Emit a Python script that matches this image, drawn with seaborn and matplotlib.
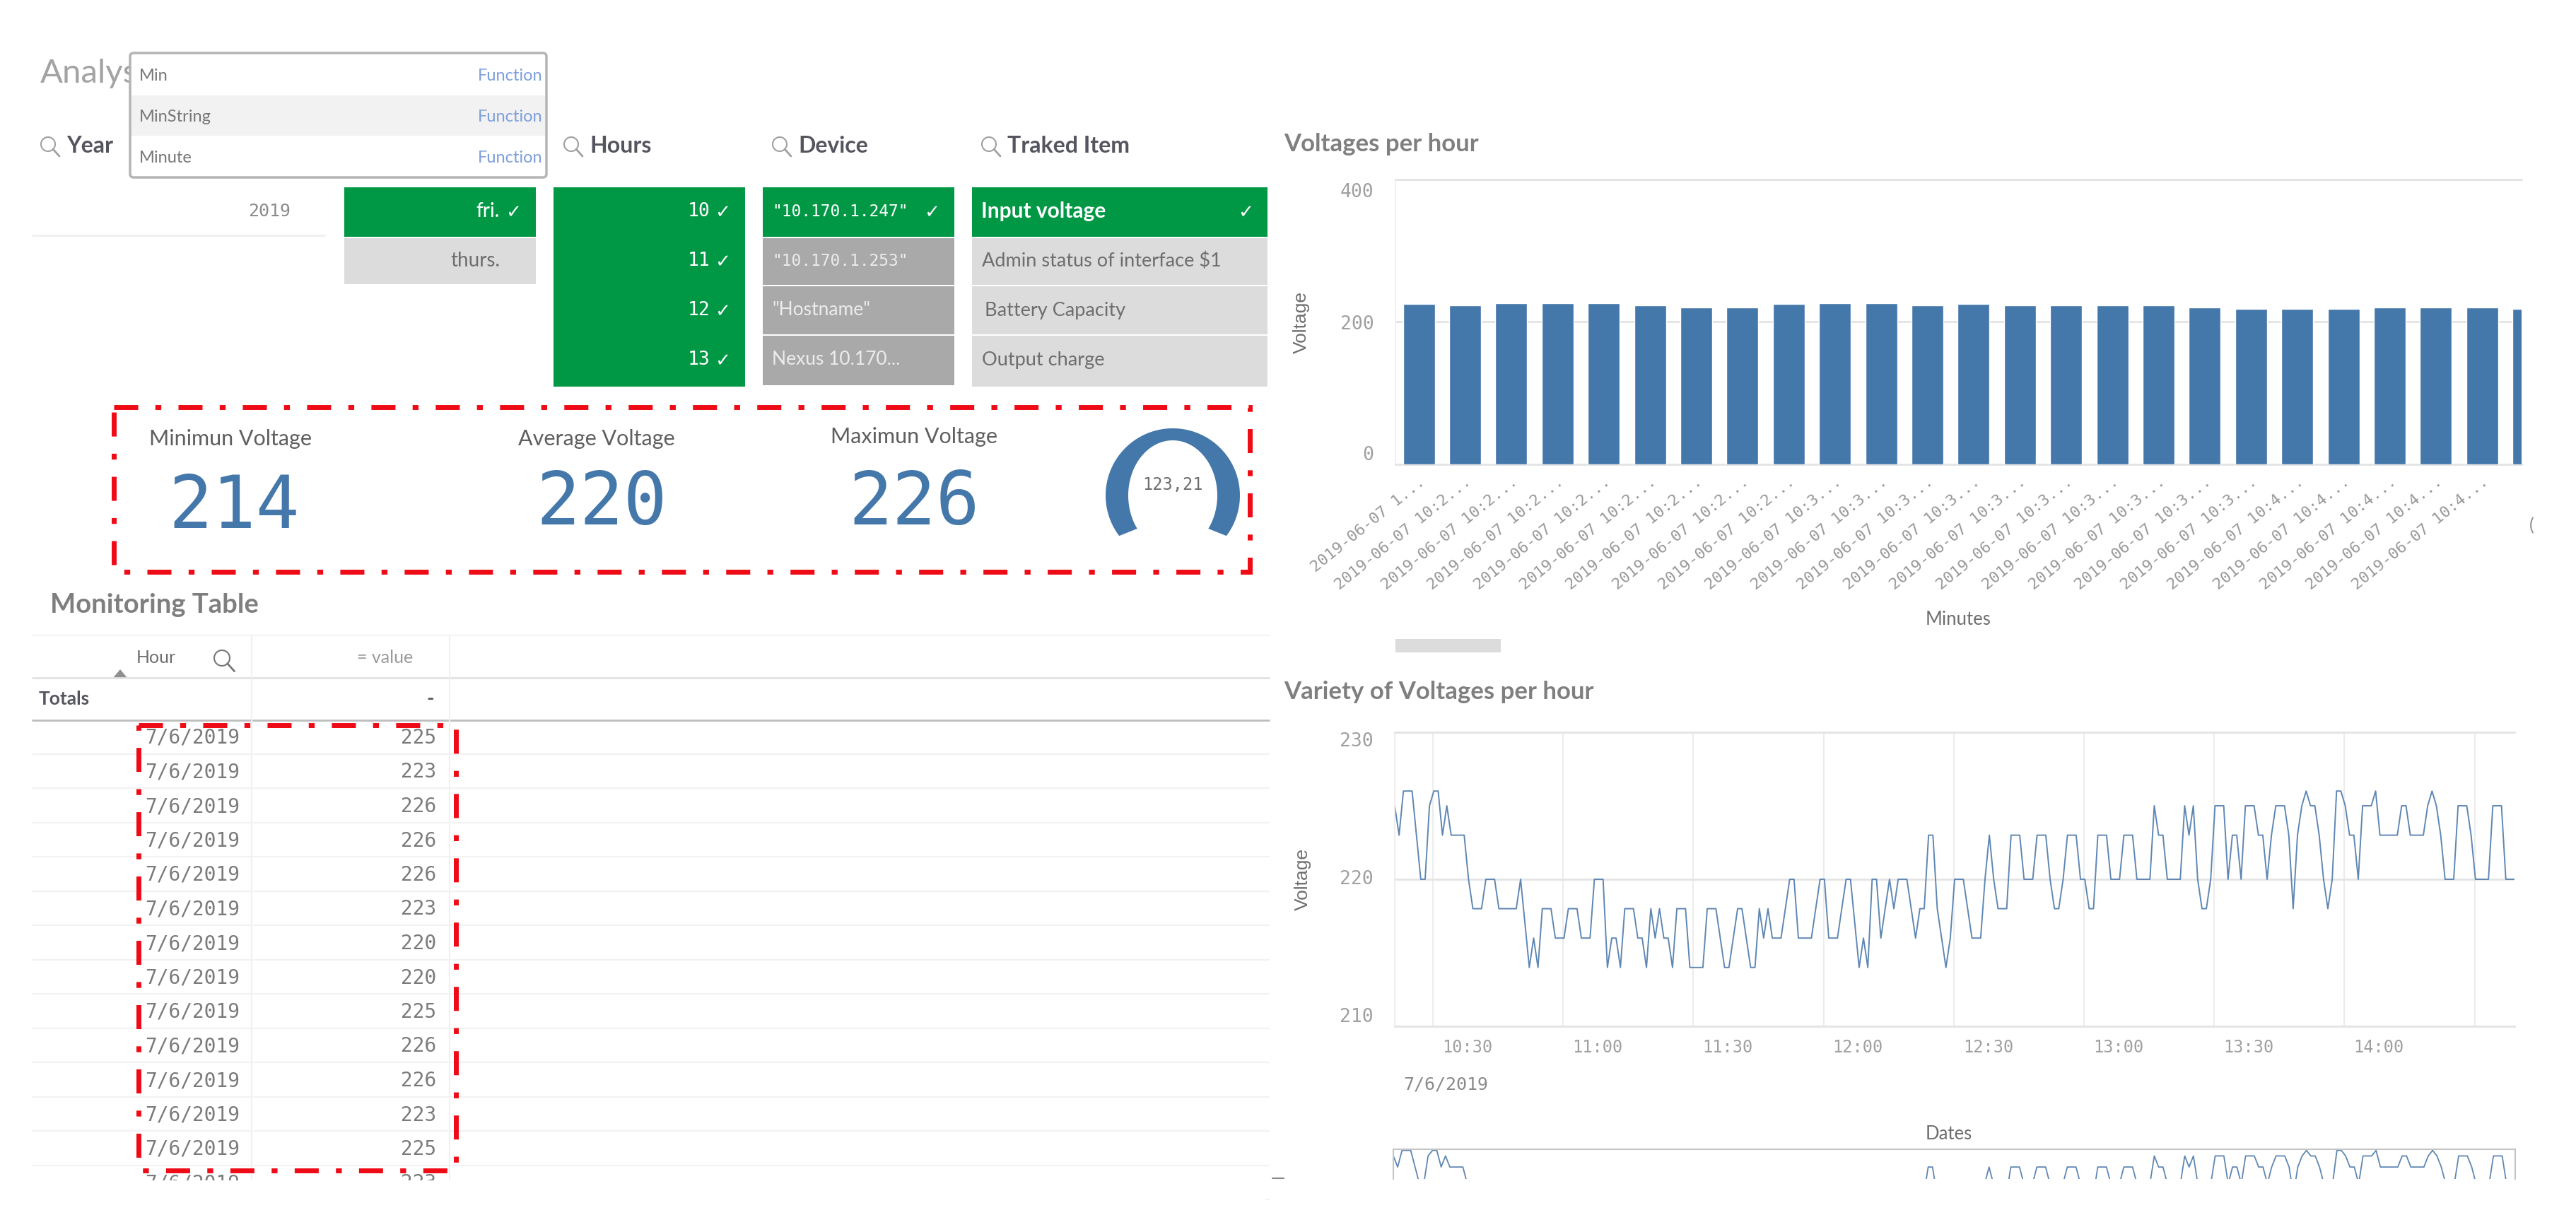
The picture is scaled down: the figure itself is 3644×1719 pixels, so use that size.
import numpy as np
import pandas as pd
import matplotlib
matplotlib.use('Agg')
import matplotlib.pyplot as plt
from matplotlib.patches import Rectangle, Circle, Polygon, FancyBboxPatch
import seaborn as sns

W, H = 3644, 1719

# slicers
hours = ['10', '11', '12', '13']
days = ['fri.', 'thurs.']
devices = ['"10.170.1.247"', '"10.170.1.253"', '"Hostname"', 'Nexus 10.170...']
items = ['Input voltage', 'Admin status of interface $1', 'Battery Capacity', 'Output charge']
suggestions = ['Min', 'MinString', 'Minute']

# kpis
kpi_names = ['Minimun Voltage', 'Average Voltage', 'Maximun Voltage']
kpi_values = ['214', '220', '226']
gauge_value = '123,21'

# table
table_values = [225, 223, 226, 226, 226, 223, 220, 220, 225, 226, 226, 223, 225, 223]

# bars
bar_values = [225, 223, 226, 226, 226, 223, 220, 220, 225, 226, 226, 223, 225,
              223, 223, 223, 223, 220, 218, 218, 218, 220, 220, 220, 218]
bar_labels = ['2019-06-07 1...'] + ['2019-06-07 10:2...'] * 8 + ['2019-06-07 10:3...'] * 10 + ['2019-06-07 10:4...'] * 5

# line, one reading per minute
line_values = [
    225, 223, 226, 226, 226, 223, 220, 220, 225, 226, 226, 223, 225, 223, 223, 223, 223, 220,
    218, 218, 218, 220, 220, 220, 218, 218, 218, 218, 218, 220, 217, 214, 216, 214, 218, 218,
    218, 216, 216, 216, 218, 218, 218, 216, 216, 216, 220, 220, 220, 214, 216, 216, 214, 218,
    218, 218, 216, 216, 214, 218, 216, 218, 216, 216, 214,
    218, 218, 218, 214, 214, 214, 214, 218, 218, 218, 216, 214, 214, 216, 218, 218, 216, 214,
    214, 218, 216, 218, 216, 216, 216, 218, 220, 220, 216, 216, 216, 216, 218, 220, 220, 216,
    216, 216, 218, 220, 220, 217, 214, 216, 214, 220, 220, 216, 218, 220, 218, 220, 220, 220,
    218, 216, 218, 218, 223, 223, 218, 216, 214, 216, 220, 220,
    220, 218, 216, 216, 216, 220, 223, 220, 218, 218, 218, 223, 223, 223, 220, 220, 220, 223,
    223, 223, 220, 218, 218, 220, 223, 223, 223, 220, 220, 218, 218, 223, 223, 223, 220, 220,
    220, 223, 223, 223, 220, 220, 220, 220, 225, 223, 223, 220, 220, 220, 220, 225, 223, 225,
    220, 218, 218, 220, 225, 225, 225, 220, 223, 223, 220,
    225, 225, 225, 223, 223, 220, 223, 225, 225, 225, 223, 218, 223, 225, 226, 225, 225, 223,
    220, 218, 220, 226, 226, 225, 223, 223, 220, 225, 225, 225, 226, 223, 223, 223, 223, 223,
    225, 225, 223, 223, 223, 223, 225, 226, 225, 223, 220, 220, 220, 225, 225, 225, 223, 220,
    220, 220, 220, 225, 225, 225, 220, 220, 220]
line_ticks = ['10:30', '11:00', '11:30', '12:00', '12:30', '13:00', '13:30', '14:00', '14:30']

BLUE = '#4477aa'
LINE = '#5f87b3'
GREEN = '#009845'
LIGHT = '#dcdcdc'
DARK = '#a9a9a9'
GRID = '#e4e4e4'
TXT = '#6e6e6e'
HEAD = '#55555f'
AXTXT = '#a0a0a0'
MONO = 'DejaVu Sans Mono'
SANS = 'Lato'

sns.set_theme(style='white')
plt.rcParams['font.family'] = SANS

fig = plt.figure(figsize=(W / 100, H / 100), dpi=100)


def px_axes(left, top, right, bottom):
    return fig.add_axes([left / W, 1 - bottom / H, (right - left) / W, (bottom - top) / H])


bg = px_axes(0, 0, W, H)
bg.set_xlim(0, W)
bg.set_ylim(H, 0)
bg.axis('off')


def txt(x, y, s, size=19, color=TXT, ha='left', family=SANS, weight='normal', **kw):
    bg.text(x, y, s, fontsize=size, color=color, ha=ha, va='center', family=family, weight=weight, **kw)


def lens(x, y, r=10, color='#a0a0a0'):
    bg.add_patch(Circle((x, y), r, fill=False, ec=color, lw=1.5))
    bg.plot([x + r * 0.7, x + r * 1.6], [y + r * 0.7, y + r * 1.7], color=color, lw=2)


def box(x0, y0, x1, y1, color, zorder=1):
    bg.add_patch(Rectangle((x0, y0), x1 - x0, y1 - y0, fc=color, ec='none', zorder=zorder))


def redbox(x0, y0, x1, y1):
    bg.add_patch(Rectangle((x0, y0), x1 - x0, y1 - y0, fill=False, ec='#ee0b16', lw=5,
                           ls=(0, (4.9, 3.5, 1.2, 3.5)), capstyle='butt', zorder=7))


# header
txt(57, 104, 'Analys', size=34, color='#a3a3a3')
for x, name in [(69, 'Year'), (809, 'Hours'), (1104, 'Device'), (1400, 'Traked Item')]:
    lens(x - 1, 204, 10)
    txt(x + 25, 207, name, size=23, color=HEAD, weight='bold')

# function dropdown
bg.add_patch(FancyBboxPatch((184, 75), 589, 176, boxstyle='round,pad=0,rounding_size=5', fc='white',
                            ec='#b4b4b4', lw=2.5, zorder=3))
box(186, 135, 771, 192, '#f2f2f2', zorder=3)
for y, name in zip([108, 165, 224], suggestions):
    bg.text(197, y, name, fontsize=17, color='#777777', va='center', zorder=4)
    bg.text(767, y, 'Function', fontsize=17, color='#7d9fdc', va='center', ha='right', zorder=4)

# year
txt(411, 299, '2019', size=18, color='#8a8a8a', ha='right', family=MONO)
bg.plot([46, 459], [333, 333], color='#efefef', lw=2)

# day column
box(487, 265, 758, 335, GREEN)
box(487, 337, 758, 402, LIGHT)
txt(707, 299, days[0], size=20, color='white', ha='right')
txt(707, 369, days[1], size=20, color=TXT, ha='right')
txt(726, 301, '\u2713', size=19, color='white', ha='center', family='DejaVu Sans', weight='bold')

# hours column
row_y = [299, 369, 439, 509]
box(783, 265, 1054, 547, GREEN)
for y, h in zip(row_y, hours):
    txt(1005, y, h, size=19, color='white', ha='right', family=MONO)
    txt(1022, y + 2, '\u2713', size=19, color='white', ha='center', family='DejaVu Sans', weight='bold')

# device column
box(1079, 265, 1350, 335, GREEN)
box(1079, 337, 1350, 403, DARK)
box(1079, 405, 1350, 473, DARK)
box(1079, 475, 1350, 545, DARK)
txt(1092, 299, devices[0], size=16.5, color='white', family=MONO)
txt(1092, 369, devices[1], size=16.5, color='#ececec', family=MONO)
txt(1092, 439, devices[2], size=19, color='#ececec')
txt(1092, 509, devices[3], size=19, color='#ececec')
txt(1318, 301, '\u2713', size=19, color='white', ha='center', family='DejaVu Sans', weight='bold')

# tracked item column
box(1375, 265, 1793, 335, GREEN)
box(1375, 337, 1793, 403, LIGHT)
box(1375, 405, 1793, 473, LIGHT)
box(1375, 475, 1793, 547, LIGHT)
txt(1388, 299, items[0], size=21.5, color='white', weight='bold')
txt(1389, 369, items[1], size=19.5)
txt(1393, 439, items[2], size=19.5)
txt(1389, 509, items[3], size=19.5)
txt(1762, 301, '\u2713', size=19, color='white', ha='center', family='DejaVu Sans', weight='bold')

# kpi strip
redbox(161, 576, 1768, 809)
for x, y, name in zip([211, 733, 1175], [621, 621, 618], kpi_names):
    txt(x, y, name, size=22, color='#5f5f5f')
for x, y, val in zip([238, 758, 1200], [718, 713, 713], kpi_values):
    txt(x, y, val, size=74, color=BLUE, family=MONO)

# gauge
ang = np.radians(np.linspace(-217, 37, 80))
outer = np.c_[1659 + 95 * np.cos(ang), 701 + 95 * np.sin(ang)]
inner = np.c_[1659 + 63 * np.cos(ang[::-1]), 701 + 78 * np.sin(ang[::-1])]
bg.add_patch(Polygon(np.r_[outer, inner], fc=BLUE, ec='none'))
txt(1659, 686, gauge_value, size=17, ha='center', family=MONO)

# table
txt(71, 856, 'Monitoring Table', size=27.5, color='#7f7f7f', weight='bold')
bg.plot([46, 1795], [899, 899], color='#f3f3f3', lw=1.5)
bg.plot([46, 1795], [959, 959], color='#e2e2e2', lw=2)
bg.plot([46, 1795], [1019, 1019], color='#bdbdbd', lw=2)
for x in [356, 636]:
    bg.plot([x, x], [899, 1668], color='#f0f0f0', lw=1.5)
txt(193, 930, 'Hour', size=18)
lens(314, 931, 11, color='#777777')
txt(584, 930, '= value', size=18, color='#9a9a9a', ha='right')
bg.add_patch(Polygon([[160, 959], [180, 959], [170, 947]], fc='#8f8f8f', ec='none'))
txt(55, 989, 'Totals', size=19, color=HEAD, weight='bold')
txt(614, 989, '-', size=20, color=HEAD, ha='right', weight='bold')
for i, val in enumerate(table_values):
    y = 1044 + 48.5 * i
    txt(205, y, '7/6/2019', size=20, family=MONO, color='#7a7a7a')
    txt(617, y, str(val), size=20, family=MONO, ha='right', color='#7a7a7a')
    bg.plot([46, 1795], [y + 23, y + 23], color='#f2f2f2', lw=1.5)
box(0, 1670, 1790, H, 'white', zorder=6)
redbox(196, 1026, 645, 1656)
bg.plot([1800, 1816], [1667, 1667], color='#888888', lw=1.5)

# bar chart
txt(1816, 204, 'Voltages per hour', size=25, color='#7f7f7f', weight='bold')
ax1 = px_axes(1974, 254, 3567, 657)
ax1.patch.set_alpha(0)
sns.barplot(x=list(range(len(bar_values))), y=bar_values, color=BLUE, saturation=1, width=0.688,
            ax=ax1, zorder=3)
ax1.set_xlim(-0.505, 23.85)
ax1.set_ylim(0, 400)
ax1.set_yticks([0, 200, 400])
ax1.set_yticklabels(['0', '200', ''], fontsize=19, family=MONO, color=AXTXT)
ax1.get_yticklabels()[0].set_va('bottom')
ax1.annotate('400', (0, 400), xycoords=ax1.get_yaxis_transform(), xytext=(-31, -18), textcoords='offset pixels',
             fontsize=19, family=MONO, color=AXTXT, ha='right', va='center')
ax1.set_xticks(range(len(bar_labels)))
ax1.set_xticklabels(bar_labels, fontsize=16, family=MONO, color='#989898', rotation=39, ha='right',
                    rotation_mode='anchor')
ax1.tick_params(axis='y', length=14, width=2, color=GRID, pad=8)
ax1.tick_params(axis='x', length=0, pad=10)
ax1.grid(axis='y', color=GRID, lw=2)
ax1.set_axisbelow(True)
for side in ['top', 'bottom']:
    ax1.spines[side].set_color(GRID)
    ax1.spines[side].set_linewidth(2)
ax1.spines['left'].set_color('#f0f0f0')
ax1.spines['right'].set_visible(False)
ax1.set_xlabel('')
ax1.set_ylabel('')
txt(1841, 456, 'Voltage', size=19, rotation=90, ha='center', family='Liberation Sans')
txt(2770, 877, 'Minutes', size=18.5, ha='center')
box(1974, 904, 2123, 923, LIGHT)
txt(3578, 744, '(', size=18, color='#909090')

# line chart
txt(1816, 979, 'Variety of Voltages per hour', size=25, color='#7f7f7f', weight='bold')
times = pd.date_range('2019-06-07 10:21:12', periods=len(line_values), freq='min')
ax2 = px_axes(1973, 1036, 3557, 1452)
ax2.patch.set_alpha(0)
sns.lineplot(x=times, y=line_values, color=LINE, lw=1.4, ax=ax2, errorbar=None)
ax2.set_xlim(times[0], times[-1])
ax2.set_ylim(210, 230)
ax2.set_yticks([210, 220, 230])
ax2.set_yticklabels(['210', '220', '230'], fontsize=19, family=MONO, color=AXTXT)
for lab, va in zip(ax2.get_yticklabels(), ['bottom', 'center', 'top']):
    lab.set_va(va)
ax2.set_xticks(pd.date_range('2019-06-07 10:30', periods=len(line_ticks), freq='30min'))
ax2.set_xticklabels([])
ax2.set_xlabel('')
ax2.tick_params(axis='x', length=40, width=1.5, color='#ececec')
ax2.tick_params(axis='y', length=14, width=2, color=GRID, pad=8)
ax2.grid(axis='x', color='#ececec', lw=1.5)
ax2.grid(axis='y', color=GRID, lw=2)
ax2.set_axisbelow(True)
for x, lab in zip(ax2.get_xticks(), line_ticks):
    if lab != '14:30':
        ax2.annotate(lab, (x, 0), xycoords=ax2.get_xaxis_transform(), xytext=(13, -30),
                     textcoords='offset pixels', fontsize=17, family=MONO, color=AXTXT, va='center')
for side in ['top', 'bottom']:
    ax2.spines[side].set_color(GRID)
    ax2.spines[side].set_linewidth(2)
ax2.spines['left'].set_color('#ececec')
ax2.spines['right'].set_visible(False)
txt(1843, 1244, 'Voltage', size=19, rotation=90, ha='center', family='Liberation Sans')
txt(1985, 1534, '7/6/2019', size=18, family=MONO, color='#8a8a8a')
txt(2757, 1605, 'Dates', size=18.5, ha='center')

# range selector under the line chart, cut off by the screenshot edge
ax3 = px_axes(1971, 1626, 3558, 1668)
ax3.patch.set_alpha(0)
sns.lineplot(x=times, y=line_values, color=LINE, lw=1.3, ax=ax3, errorbar=None)
ax3.set_xlim(times[0], times[-1])
ax3.set_ylim(220.85, 226.2)
ax3.set_xticks([])
ax3.set_yticks([])
ax3.set_xlabel('')
ax3.set_ylabel('')
ax3.spines['bottom'].set_visible(False)
for side in ['top', 'left', 'right']:
    ax3.spines[side].set_color('#c4c4c4')
    ax3.spines[side].set_linewidth(1.5)

fig.savefig('out.png', dpi=100, facecolor='white')
